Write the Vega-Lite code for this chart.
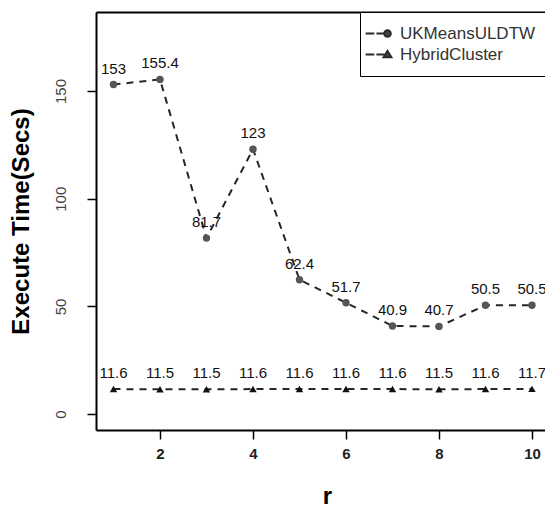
{
  "$schema": "https://vega.github.io/schema/vega-lite/v6.json",
  "width": 449,
  "height": 418,
  "autosize": {"type": "none"},
  "padding": {"left": 96, "top": 12, "right": 0, "bottom": 78},
  "background": "white",
  "config": {
    "view": {"stroke": null},
    "font": "Liberation Sans",
    "axis": {"grid": false, "domainColor": "black", "domainWidth": 2, "tickColor": "black", "tickWidth": 1.5, "tickSize": 9}
  },
  "data": {
    "values": [
      {"r": 1, "time": 153, "series": "UKMeansULDTW", "label": "153"},
      {"r": 2, "time": 155.4, "series": "UKMeansULDTW", "label": "155.4"},
      {"r": 3, "time": 81.7, "series": "UKMeansULDTW", "label": "81.7"},
      {"r": 4, "time": 123, "series": "UKMeansULDTW", "label": "123"},
      {"r": 5, "time": 62.4, "series": "UKMeansULDTW", "label": "62.4"},
      {"r": 6, "time": 51.7, "series": "UKMeansULDTW", "label": "51.7"},
      {"r": 7, "time": 40.9, "series": "UKMeansULDTW", "label": "40.9"},
      {"r": 8, "time": 40.7, "series": "UKMeansULDTW", "label": "40.7"},
      {"r": 9, "time": 50.5, "series": "UKMeansULDTW", "label": "50.5"},
      {"r": 10, "time": 50.5, "series": "UKMeansULDTW", "label": "50.5"},
      {"r": 1, "time": 11.6, "series": "HybridCluster", "label": "11.6"},
      {"r": 2, "time": 11.5, "series": "HybridCluster", "label": "11.5"},
      {"r": 3, "time": 11.5, "series": "HybridCluster", "label": "11.5"},
      {"r": 4, "time": 11.6, "series": "HybridCluster", "label": "11.6"},
      {"r": 5, "time": 11.6, "series": "HybridCluster", "label": "11.6"},
      {"r": 6, "time": 11.6, "series": "HybridCluster", "label": "11.6"},
      {"r": 7, "time": 11.6, "series": "HybridCluster", "label": "11.6"},
      {"r": 8, "time": 11.5, "series": "HybridCluster", "label": "11.5"},
      {"r": 9, "time": 11.6, "series": "HybridCluster", "label": "11.6"},
      {"r": 10, "time": 11.7, "series": "HybridCluster", "label": "11.7"}
    ]
  },
  "layer": [
    {
      "mark": {"type": "line", "strokeDash": [7, 6], "strokeWidth": 2, "color": "#262626"},
      "encoding": {
        "x": {"field": "r", "type": "quantitative", "scale": {"domain": [0.624, 10.28], "nice": false, "zero": false},
          "axis": {"values": [2, 4, 6, 8, 10], "title": "r", "titleFontSize": 24, "titleFontWeight": "bold", "titleColor": "black", "titlePadding": 23, "titleX": 231,
            "labelFontSize": 15, "labelFontWeight": "bold", "labelColor": "#222", "labelPadding": 7}},
        "y": {"field": "time", "type": "quantitative", "scale": {"domain": [-7.4, 186.7], "nice": false, "zero": false},
          "axis": {"values": [0, 50, 100, 150], "title": "Execute Time(Secs)", "titleFontSize": 24, "titleFontWeight": "bold", "titleColor": "black", "titlePadding": 20,
            "labelAngle": -90, "labelAlign": "center", "labelBaseline": "bottom", "labelFontSize": 15, "labelColor": "#444", "labelPadding": 19}},
        "detail": {"field": "series", "type": "nominal"}
      }
    },
    {
      "mark": {"type": "point", "filled": true, "opacity": 1, "size": 55},
      "encoding": {
        "x": {"field": "r", "type": "quantitative", "axis": {"orient": "top", "labels": false, "ticks": false, "title": null, "domain": true, "domainWidth": 2}},
        "y": {"field": "time", "type": "quantitative"},
        "shape": {"field": "series", "type": "nominal", "scale": {"domain": ["UKMeansULDTW", "HybridCluster"], "range": ["circle", "triangle-up"]}, "legend": null},
        "color": {"field": "series", "type": "nominal", "scale": {"domain": ["UKMeansULDTW", "HybridCluster"], "range": ["#555555", "#111111"]}, "legend": null}
      }
    },
    {
      "transform": [{"filter": "datum.r < 0"}],
      "mark": {"type": "point", "filled": true, "fill": "#444444", "stroke": "#2a2a2a", "strokeWidth": 2, "size": 36, "opacity": 1},
      "encoding": {
        "x": {"field": "r", "type": "quantitative", "axis": null},
        "y": {"field": "time", "type": "quantitative"},
        "shape": {"field": "series", "type": "nominal",
          "scale": {"domain": ["UKMeansULDTW", "HybridCluster"],
            "range": ["M-5.3,0H-2.4M-1.7,0H1M2,-1.1A1.1,1.1,0,1,1,2,1.1A1.1,1.1,0,1,1,2,-1.1Z", "M-5.3,0H-2.4M-1.7,0H1M0.7,0.9L2,-1.2L3.3,0.9Z"]},
          "legend": {"title": null, "orient": "none", "legendX": 264, "legendY": 0, "strokeColor": "black", "padding": 13, "fillColor": "white",
            "labelFontSize": 17, "labelColor": "#333", "labelOffset": 10, "rowPadding": 3, "symbolSize": 36, "symbolOpacity": 1,
            "symbolStrokeWidth": 2,
            "encode": {
              "legend": {"update": {"strokeWidth": {"value": 1.5}}},
              "symbols": {"update": {"fill": {"signal": "datum.value === 'HybridCluster' ? '#111111' : '#5a5a5a'"}}}
            }}}
      }
    },
    {
      "mark": {"type": "text", "fontSize": 15, "color": "#111", "baseline": "alphabetic", "dy": -11},
      "encoding": {
        "x": {"field": "r", "type": "quantitative", "axis": null},
        "y": {"field": "time", "type": "quantitative"},
        "text": {"field": "label", "type": "nominal"}
      }
    }
  ],
  "resolve": {"axis": {"x": "independent"}, "scale": {"x": "shared", "shape": "independent"}}
}
